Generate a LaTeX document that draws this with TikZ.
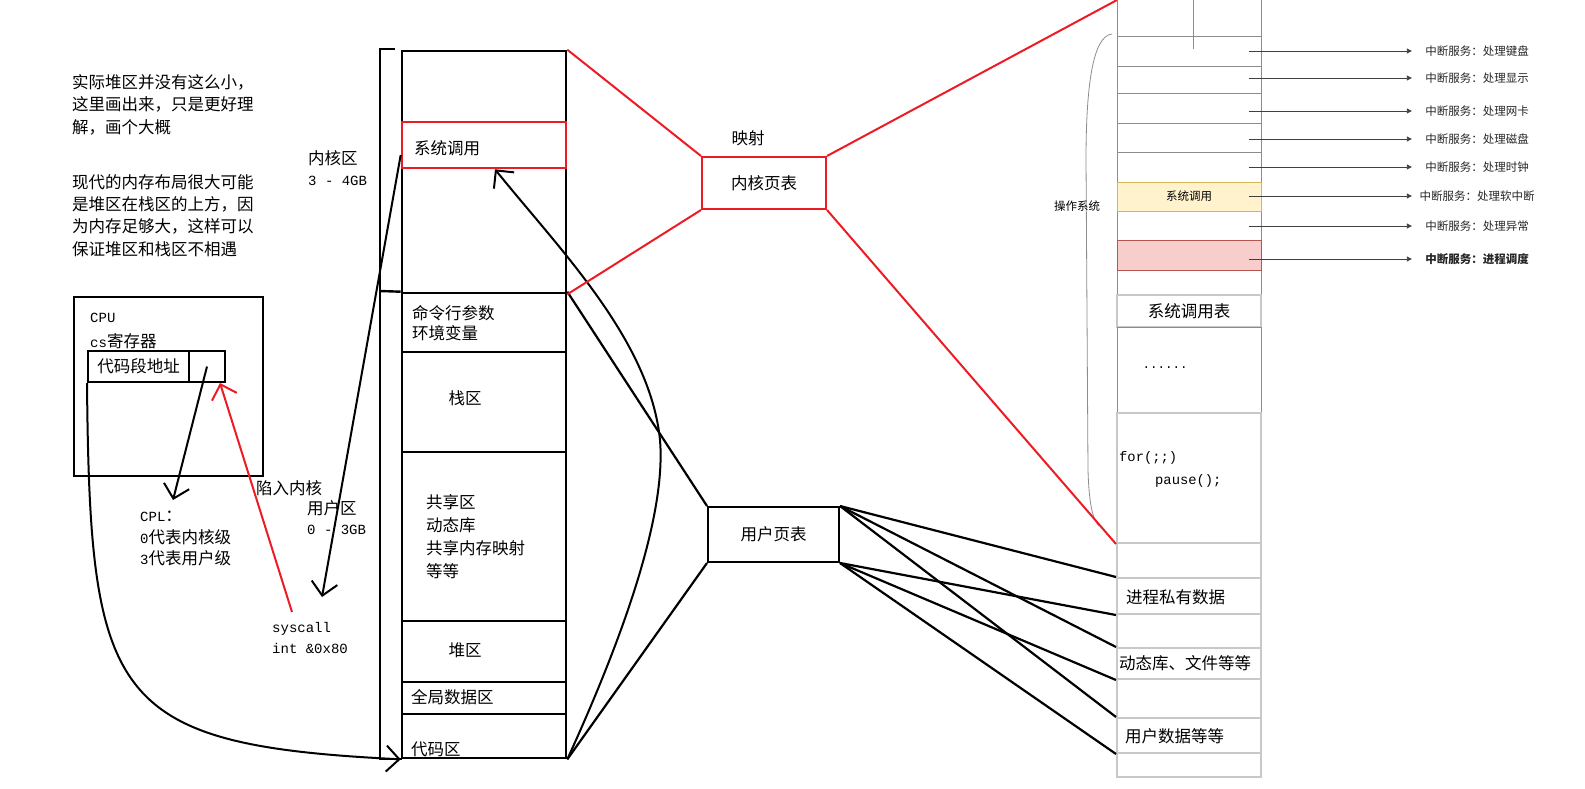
\documentclass[tikz,border=0pt]{standalone}
\usepackage{fontspec}
\setmainfont{Noto Sans CJK SC}
\newfontfamily\mono{Liberation Mono}
\usetikzlibrary{arrows.meta, positioning, calc}
\definecolor{pred}{RGB}{237,28,36}
\definecolor{ylwfill}{RGB}{255,242,204}
\definecolor{ylwdraw}{RGB}{214,182,86}
\definecolor{pinkfill}{RGB}{248,206,204}
\definecolor{pinkdraw}{RGB}{184,84,80}
\definecolor{rowgray}{RGB}{140,140,140}
\definecolor{rowlight}{RGB}{200,200,200}
\newcommand{\asc}[1]{{\mono\fontsize{14}{21}\selectfont #1}}
\tikzset{
  seg/.style={rectangle, draw, line width=2.6pt, minimum width=164pt, inner sep=0pt},
  redseg/.style={seg, draw=pred},
  box/.style={rectangle, draw, line width=2pt, inner sep=0pt},
  redbox/.style={box, draw=pred},
  txt/.style={font=\fontsize{16.5}{21}\selectfont, inner sep=0pt, align=left},
  mtxt/.style={font=\mono\fontsize{14}{21}\selectfont, inner sep=0pt, align=left},
  svctxt/.style={font=\fontsize{11.5}{14}\selectfont, inner sep=0pt},
  rcell/.style={rectangle, draw=rowgray, line width=1pt, minimum width=144pt, inner sep=0pt},
  lcell/.style={rcell, draw=rowlight, line width=2pt},
  barb/.style={-{Straight Barb[length=13pt,width=26pt]}, line width=2pt},
  link/.style={line width=2.2pt},
  redlink/.style={line width=2pt, color=pred},
  svc/.style={-{Triangle[length=5pt,width=5pt]}, line width=0.9pt, color=black!75},
  svclbl/.style={svctxt, minimum width=130pt, text=black!85},
  oscurve/.style={line width=0.8pt, color=black!45}
}
\begin{document}
\begin{tikzpicture}[x=1pt, y=-1pt]
  \useasboundingbox (0,0) rectangle (1585,788);

  % notes
  \node[txt, anchor=north west, font=\fontsize{16.5}{22.5}\selectfont] (note1) at (72,74)
    {实际堆区并没有这么小，\\这里画出来，只是更好理\\解，画个大概};
  \node[txt, anchor=north west, font=\fontsize{16.5}{22.3}\selectfont] (note2) at (72,174)
    {现代的内存布局很大可能\\是堆区在栈区的上方，因\\为内存足够大，这样可以\\保证堆区和栈区不相遇};

  % memory layout
  \node[seg, minimum height=242pt] (kern) at (484,172) {};
  \node[seg, minimum height=59pt] (cmd) at (484,322.5) {};
  \node[seg, minimum height=100pt] (stack) at (484,402) {};
  \node[seg, minimum height=169pt] (shared) at (484,536.5) {};
  \node[seg, minimum height=61pt] (heap) at (484,651.5) {};
  \node[seg, minimum height=32pt] (gdata) at (484,698) {};
  \node[seg, minimum height=44pt] (code) at (484,736) {};
  \node[redseg, minimum height=46pt] (sysc) at (484,145) {};

  \node[txt, anchor=west] (sysctxt) at (414,148) {系统调用};
  \node[txt, anchor=west, font=\fontsize{16.5}{20.5}\selectfont] (cmdtxt) at (412,323) {命令行参数\\环境变量};
  \node[txt] (stacktxt) at (465,398) {栈区};
  \node[txt, anchor=west, font=\fontsize{16.5}{23}\selectfont] (sharedtxt) at (426,537)
    {共享区\\动态库\\共享内存映射\\等等};
  \node[txt] (heaptxt) at (465,650) {堆区};
  \node[txt, anchor=west] (gdatatxt) at (411,697) {全局数据区};
  \node[txt, anchor=west] (codetxt) at (411,749) {代码区};

  % bracket
  \draw[line width=2.4pt] (395,49) -- (380,49) -- (380,759) -- (402,759);
  \coordinate (brk) at (380,291);
  \draw[line width=2.4pt] (brk) -- (cmd.north west);
  \node[txt, anchor=west] (kzone) at (308,168.5) {内核区\\\asc{3 - 4GB}};
  \node[txt, anchor=west, font=\fontsize{16.5}{20}\selectfont] (uzone) at (307,518) {用户区\\\asc{0 - 3GB}};

  % CPU
  \node[box, minimum width=189pt, minimum height=179pt] (cpu) at (168.5,386.5) {};
  \node[mtxt, anchor=west] (cputxt) at (90,318) {CPU};
  \node[txt, anchor=west] (cstxt) at (90,341) {\asc{cs}寄存器};
  \node[box, txt, minimum width=101pt, minimum height=31pt] (addr) at (138.5,366.5) {代码段地址};
  \node[box, minimum width=36pt, minimum height=31pt] (slot) at (207,366.5) {};
  \node[txt, anchor=west, font=\fontsize{16.5}{21.5}\selectfont] (cpl) at (140,538.5)
    {\asc{CPL}：\\\asc{0}代表内核级\\\asc{3}代表用户级};
  \node[txt, anchor=west] (traptxt) at (256,488) {陷入内核};
  \node[mtxt, anchor=west] (sysnote) at (272,637.5) {syscall\\int \&0x80};

  % arrows
  \coordinate (cpltip) at (173,500);
  \draw[barb] (slot.center) -- (cpltip);
  \coordinate (trap) at (292,612);
  \draw[barb, color=pred] (trap) -- ([xshift=13pt]slot.south);
  \coordinate (utip) at (322,597);
  \draw[barb] ([yshift=-10pt]sysc.west) -- (utip);
  \draw[barb] (addr.south west) .. controls (90,700) and (110,745) .. (code.south west);
  \draw[barb] (code.south east) .. controls (640,600) and (665,500) .. (660,440)
    .. controls (650,340) and (560,250) .. ([xshift=11pt]sysc.south);

  % page tables
  \node[redbox, txt, minimum width=124pt, minimum height=52pt] (kpt) at (764,183) {内核页表};
  \node[txt] (maptxt) at (748,138) {映射};
  \node[box, txt, minimum width=131pt, minimum height=55pt] (upt) at (773.5,534.5) {用户页表};

  \draw[link] (upt.north west) -- (cmd.north east);
  \draw[link] (code.south east) -- (upt.south west);

  % right column
  \node[rcell, minimum height=56pt] (c0) at (1189,8) {};
  \draw[rowgray, line width=1pt] (1193,-10) -- (1193,49);
  \foreach \i/\y/\h in {1/51/30, 2/79.5/27, 3/108/30, 4/137.5/29, 5/167/30, 7/225.5/29, 9/282.5/25}
    \node[rcell, minimum height=\h pt] (c\i) at (1189,\y) {};
  \node[rcell, svctxt, fill=ylwfill, draw=ylwdraw, minimum height=29pt] (c6) at (1189,196.5) {系统调用};
  \node[rcell, fill=pinkfill, draw=pinkdraw, minimum height=30pt] (c8) at (1189,255) {};
  \node[lcell, txt, minimum height=32pt] (systab) at (1189,311) {系统调用表};
  \node[rcell, minimum height=86pt] (etc) at (1189,370) {};
  \node[font=\mono\fontsize{12.5}{14}\selectfont, inner sep=0pt] (dots) at (1165,368) {......};
  \node[lcell, minimum height=130pt] (loop) at (1189,478) {};
  \node[mtxt, anchor=west, font=\mono\fontsize{13.8}{23}\selectfont] (looptxt) at (1119,469.5)
    {for(;;)\\\hspace*{36pt}pause();};
  \node[lcell, minimum height=35pt] (c13) at (1189,560.5) {};
  \node[lcell, minimum height=36pt] (priv) at (1189,596) {};
  \node[lcell, minimum height=34pt] (c15) at (1189,631) {};
  \node[lcell, minimum height=31pt] (libs) at (1189,663.5) {};
  \node[lcell, minimum height=39pt] (c17) at (1189,698.5) {};
  \node[lcell, minimum height=35pt] (udata) at (1189,735.5) {};
  \node[lcell, minimum height=24pt] (c19) at (1189,765) {};
  \node[txt, anchor=west] (privtxt) at (1126,597) {进程私有数据};
  \node[txt, anchor=west] (libstxt) at (1119,663) {动态库、文件等等};
  \node[txt, anchor=west] (udatatxt) at (1125,736) {用户数据等等};

  % operating system
  \draw[oscurve] (1112,34) .. controls (1092,36) and (1086,90) .. (1086,160)
    -- (1088,470) .. controls (1089,505) and (1093,520) .. (1099,526);
  \node[svctxt] (ostxt) at (1077,206) {操作系统};

  % interrupt services
  \foreach \i/\y/\t in {1/51/处理键盘, 2/78/处理显示, 3/111/处理网卡, 4/139/处理磁盘, 5/167/处理时钟, 6/196/处理软中断, 7/226/处理异常}
  {
    \node[svclbl] (s\i) at (1477,\y) {中断服务：\t};
    \draw[svc] ([xshift=-13pt]c\i.east |- s\i.west) -- (s\i.west);
  }
  \node[svclbl, font=\bfseries\fontsize{11.5}{14}\selectfont] (s8) at (1477,259) {中断服务：进程调度};
  \draw[svc] ([xshift=-13pt]c8.east |- s8.west) -- (s8.west);

  % mapping
  \coordinate (coltop) at (1117,0);
  \draw[redlink] (kern.north east) -- (kpt.north west);
  \draw[redlink] (kpt.south west) -- (kern.south east);
  \draw[redlink] (kpt.north east) -- (coltop);
  \draw[redlink] (kpt.south east) -- (loop.south west);

  \foreach \c in {priv, libs, udata}
  {
    \draw[link] (upt.north east) -- (\c.north west);
    \draw[link] (upt.south east) -- (\c.south west);
  }
\end{tikzpicture}
\end{document}
